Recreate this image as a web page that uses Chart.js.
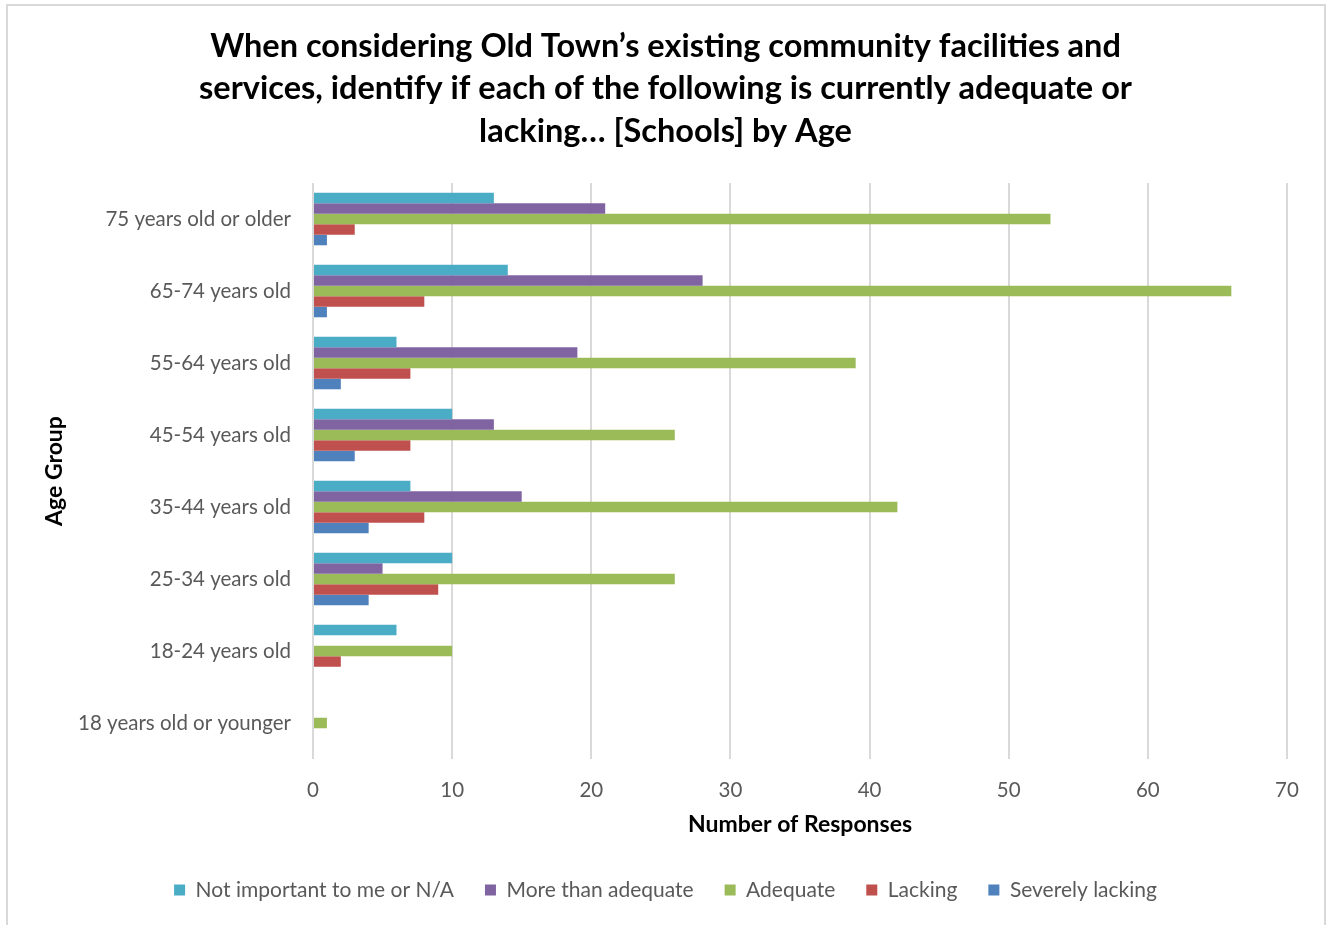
<!DOCTYPE html>
<html>
<head>
<meta charset="utf-8">
<script src="https://cdn.jsdelivr.net/npm/chart.js@4.4.1/dist/chart.umd.min.js"></script>
<style>
  html, body { margin: 0; padding: 0; background: #ffffff; overflow: hidden; }
  #wrap { position: relative; width: 1331px; height: 925px; overflow: hidden; }
  #frame { position: absolute; left: 6px; top: 4px; width: 1316px; height: 940px; border: 2px solid #d9d9d9; border-bottom: none; pointer-events: none; }
</style>
</head>
<body>
<div id="wrap">
  <canvas id="c" width="1331" height="925"></canvas>
  <div id="frame"></div>
</div>
<script>
const categories = [
  "75 years old or older",
  "65-74 years old",
  "55-64 years old",
  "45-54 years old",
  "35-44 years old",
  "25-34 years old",
  "18-24 years old",
  "18 years old or younger"
];
const notImportant     = [13, 14, 6, 10, 7, 10, 6, 0];
const moreThanAdequate = [21, 28, 19, 13, 15, 5, 0, 0];
const adequate         = [53, 66, 39, 26, 42, 26, 10, 1];
const lacking          = [3, 8, 7, 7, 8, 9, 2, 0];
const severelyLacking  = [1, 1, 2, 3, 4, 4, 0, 0];
const xTicks = [0, 10, 20, 30, 40, 50, 60, 70];

const seriesNames = ["Not important to me or N/A", "More than adequate", "Adequate", "Lacking", "Severely lacking"];
const seriesData = [notImportant, moreThanAdequate, adequate, lacking, severelyLacking];
const seriesColors = ["#4BACC6", "#8064A2", "#9BBB59", "#C0504D", "#4F81BD"];

const FONT = "Lato, 'Open Sans', sans-serif";

new Chart(document.getElementById('c'), {
  type: 'bar',
  data: {
    labels: categories,
    datasets: seriesNames.map((n, i) => ({
      label: n,
      data: seriesData[i],
      backgroundColor: seriesColors[i],
      borderWidth: 0,
      categoryPercentage: 0.73,
      barPercentage: 1.0
    }))
  },
  options: {
    indexAxis: 'y',
    responsive: false,
    animation: false,
    layout: { padding: { left: 22, right: 22, top: 0, bottom: 14.5 } },
    plugins: {
      title: {
        display: true,
        text: [
          "When considering Old Town\u2019s existing community facilities and",
          "services, identify if each of the following is currently adequate or",
          "lacking\u2026 [Schools] by Age"
        ],
        color: '#000000',
        font: { family: FONT, size: 32.5, weight: 'bold', lineHeight: 1.3077 },
        padding: { top: 25, bottom: 30.5 }
      },
      legend: {
        position: 'bottom',
        labels: {
          color: '#595959',
          font: { family: FONT, size: 21 },
          boxWidth: 11,
          boxHeight: 11,
          padding: 31
        }
      },
      tooltip: { enabled: false }
    },
    scales: {
      x: {
        min: 0,
        max: 70,
        afterBuildTicks: (s) => { s.ticks = xTicks.map(v => ({ value: v })); },
        afterFit: (s) => { s.height = 89.5; },
        grid: { color: '#d9d9d9', lineWidth: 2, drawTicks: false },
        border: { display: false },
        ticks: { color: '#595959', font: { family: FONT, size: 20.5 }, padding: 19 },
        title: {
          display: true,
          text: 'Number of Responses',
          color: '#000000',
          font: { family: FONT, size: 23, weight: 'bold' },
          padding: { top: 4, bottom: 9.7 }
        }
      },
      y: {
        afterFit: (s) => { s.width = 291; },
        grid: { display: false, drawTicks: false },
        border: { display: false },
        ticks: { color: '#595959', font: { family: FONT, size: 20.5 }, padding: 22 },
        title: {
          display: true,
          text: 'Age Group',
          color: '#000000',
          font: { family: FONT, size: 23, weight: 'bold' },
          padding: { top: 19, bottom: 0 }
        }
      },
      yRight: {
        position: 'right',
        display: true,
        afterFit: (s) => { s.width = 22; },
        grid: { display: false, drawTicks: false },
        border: { display: false },
        ticks: { display: false }
      }
    }
  }
});
</script>
</body>
</html>
